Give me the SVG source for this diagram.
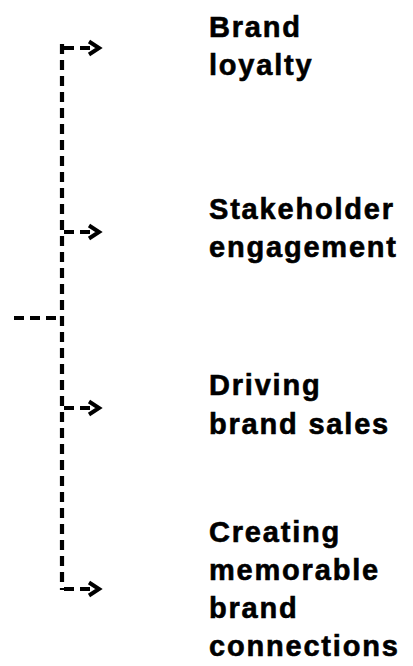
<svg xmlns="http://www.w3.org/2000/svg" width="413" height="666" viewBox="0 0 413 666">
<style>
.lbl{font-family:"Liberation Sans",Arial,sans-serif;font-weight:bold;font-size:29px;fill:#000;stroke:#000;stroke-width:0.6;letter-spacing:1.8px}
.con{fill:none;stroke:#000;stroke-width:4.2;stroke-dasharray:10 6}
</style>
<defs>
<marker id="arr" markerUnits="userSpaceOnUse" markerWidth="18" markerHeight="18" refX="13" refY="9" orient="auto" viewBox="0 0 18 18">
<path d="M3 2.5 L13 9 L3 15.5" fill="none" stroke="#000" stroke-width="4"/>
</marker>
</defs>
<rect width="413" height="666" fill="#fff"/>
<g id="connectors">
<path class="con" d="M14 318 H62" stroke-dasharray="3 5 10 5 10 4"/>
<path class="con" d="M62 44 V590"/>
<path class="con" d="M64 48 H99" stroke-dasharray="6 4 10 30" marker-end="url(#arr)"/>
<path class="con" d="M64 232 H99" stroke-dasharray="6 4 10 30" marker-end="url(#arr)"/>
<path class="con" d="M64 408 H99" stroke-dasharray="6 4 10 30" marker-end="url(#arr)"/>
<path class="con" d="M64 589 H99" stroke-dasharray="6 4 10 30" marker-end="url(#arr)"/>
</g>
<g id="n1"><text class="lbl" x="209" y="37">Brand</text><text class="lbl" x="209" y="75">loyalty</text></g>
<g id="n2"><text class="lbl" x="209" y="219">Stakeholder</text><text class="lbl" x="209" y="257">engagement</text></g>
<g id="n3"><text class="lbl" x="209" y="395">Driving</text><text class="lbl" x="209" y="434">brand sales</text></g>
<g id="n4"><text class="lbl" x="209" y="542">Creating</text><text class="lbl" x="209" y="580">memorable</text><text class="lbl" x="209" y="618">brand</text><text class="lbl" x="209" y="656">connections</text></g>
</svg>
